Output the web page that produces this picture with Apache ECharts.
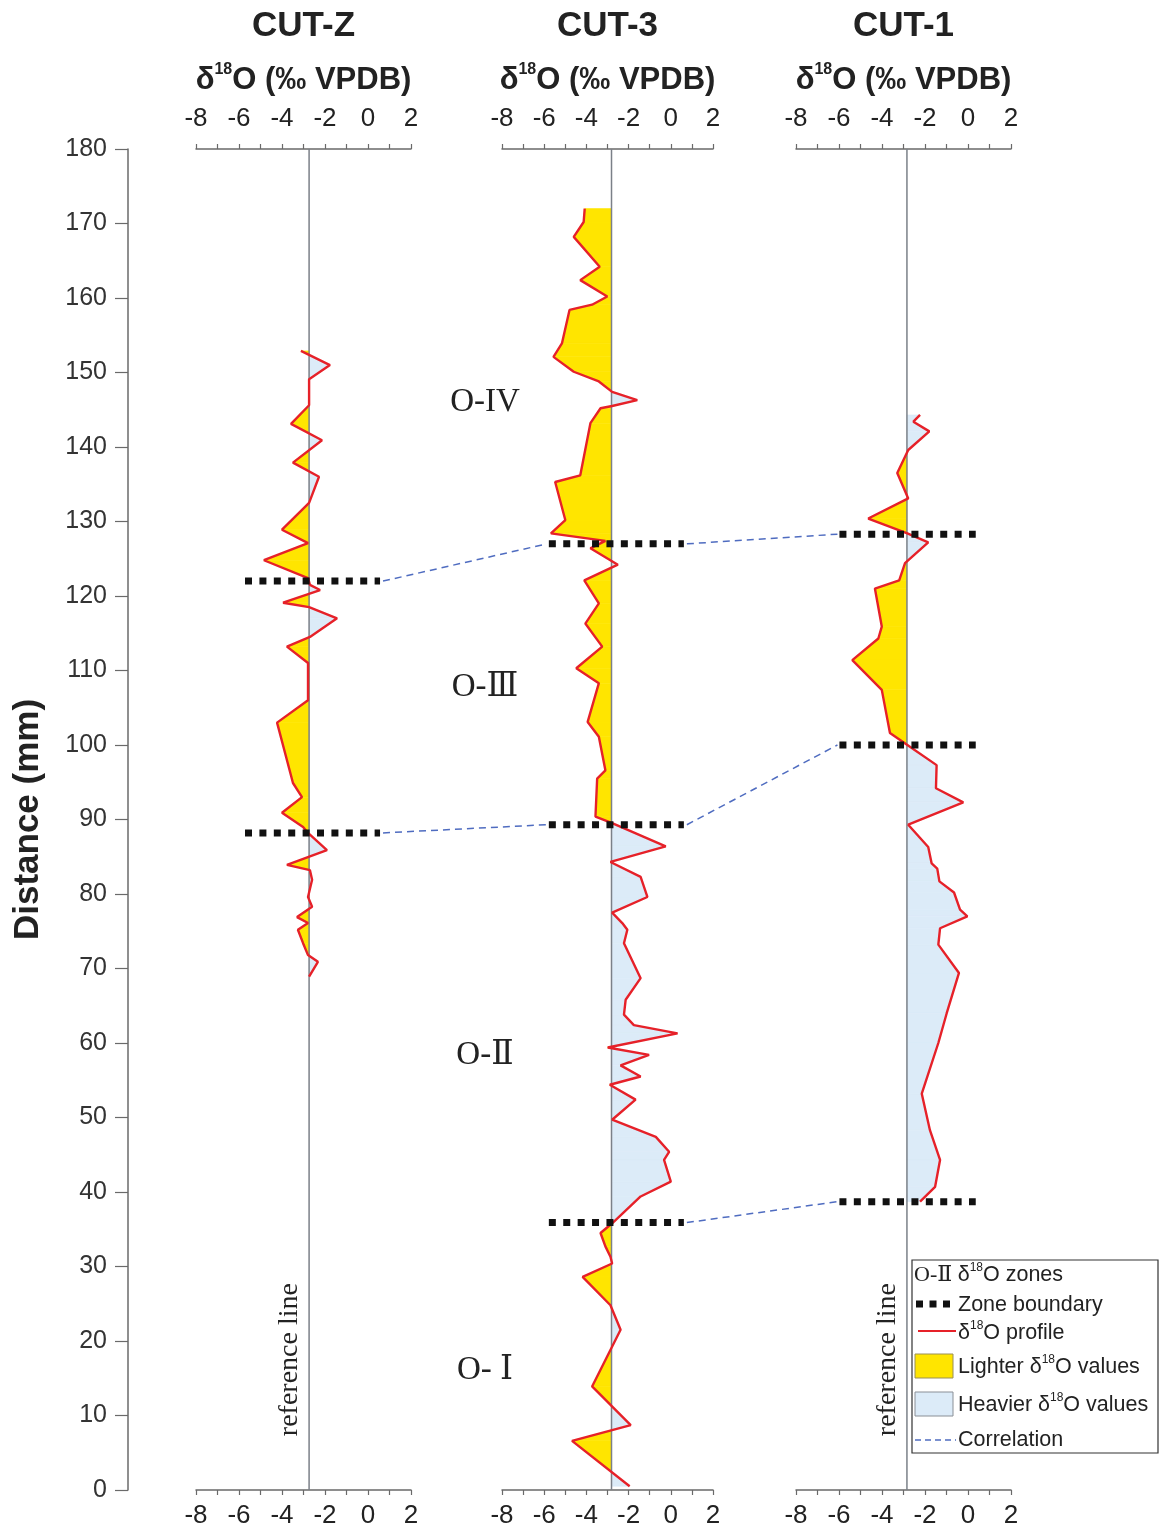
<!DOCTYPE html>
<html>
<head>
<meta charset="utf-8">
<script src="https://cdn.jsdelivr.net/npm/echarts@6/dist/echarts.min.js"></script>
<style>
  html, body { margin: 0; padding: 0; background: #ffffff; }
  #chart { width: 1159px; height: 1530px; }
</style>
</head>
<body>
<div id="chart"></div>
<script>
// ---- Scales ----
const distanceMin = 0, distanceMax = 180, distanceStep = 10;
const isoMin = -8, isoMax = 2, isoStep = 1;

// ---- CUT-Z profile (distance in mm, δ18O in ‰ VPDB) ----
const cutZDistance = [152.9, 151.0, 149.1, 145.6, 143.1, 140.9, 137.9, 136.0, 132.5, 128.9, 127.1, 124.8, 122.4, 121.5, 120.8, 119.1, 118.5, 117.0, 114.5, 113.2, 111.0, 106.0, 103.0, 94.9, 93.0, 90.9, 89.0, 88.2, 85.9, 83.9, 83.2, 81.9, 79.6, 78.3, 76.9, 76.1, 75.2, 73.4, 71.8, 70.9, 68.9];
const cutZIso = [-3.12, -1.77, -2.74, -2.74, -3.58, -2.14, -3.49, -2.28, -2.74, -4.00, -2.79, -4.84, -2.79, -2.70, -2.23, -3.95, -2.74, -1.44, -2.70, -3.77, -2.79, -2.79, -4.23, -3.49, -3.07, -4.00, -3.02, -2.79, -1.91, -3.77, -2.70, -2.60, -2.79, -2.60, -3.30, -2.79, -3.26, -3.02, -2.79, -2.33, -2.74];
const cutZReference = -2.74;
const cutZBoundaries = [122.0, 88.2];

// ---- CUT-3 profile ----
const cut3Distance = [172.0, 170.2, 168.2, 164.2, 162.4, 160.2, 159.1, 158.4, 153.9, 152.1, 150.1, 148.8, 147.4, 146.3, 145.5, 145.2, 143.2, 136.2, 135.3, 130.2, 128.4, 127.4, 126.4, 124.2, 122.1, 119.0, 116.3, 113.2, 110.3, 108.3, 103.1, 101.1, 96.6, 95.5, 90.4, 89.5, 86.4, 84.3, 82.3, 79.6, 77.5, 76.1, 75.2, 73.4, 68.7, 65.8, 63.8, 62.4, 61.3, 59.4, 58.4, 57.0, 55.5, 54.4, 52.4, 49.7, 47.4, 45.4, 44.3, 41.4, 39.4, 35.8, 34.5, 32.7, 31.3, 30.4, 28.6, 24.8, 21.5, 13.9, 8.7, 6.6, 0.5];
const cut3Iso = [-4.08, -4.13, -4.60, -3.37, -4.29, -3.01, -3.73, -4.80, -5.16, -5.56, -4.60, -3.41, -2.78, -1.59, -2.78, -3.33, -3.81, -4.29, -5.48, -5.00, -5.68, -3.10, -3.81, -2.51, -4.10, -3.41, -4.05, -3.25, -4.48, -3.41, -3.94, -3.41, -3.10, -3.49, -3.57, -2.78, -0.24, -2.86, -1.43, -1.11, -2.78, -2.30, -2.06, -2.22, -1.43, -2.14, -2.22, -1.75, 0.32, -2.99, -1.03, -2.38, -1.43, -2.89, -1.67, -2.78, -0.71, -0.08, -0.32, 0.00, -1.43, -2.78, -3.33, -3.10, -2.86, -2.78, -4.18, -2.86, -2.38, -3.73, -1.90, -4.68, -1.95];
const cut3Reference = -2.81;
const cut3Boundaries = [127.0, 89.3, 35.9];

// ---- CUT-1 profile ----
const cut1Distance = [144.3, 143.4, 142.1, 139.6, 136.5, 133.1, 130.4, 128.4, 127.2, 124.4, 122.1, 121.0, 115.9, 114.3, 111.4, 107.4, 101.6, 100.0, 97.3, 94.2, 92.3, 89.3, 86.3, 84.1, 83.4, 81.7, 80.2, 77.9, 77.0, 75.4, 73.2, 69.4, 64.0, 60.0, 53.2, 48.3, 44.3, 40.7, 38.7];
const cut1Iso = [-2.23, -2.54, -1.80, -2.78, -3.29, -2.78, -4.64, -2.82, -1.85, -2.93, -3.20, -4.33, -4.01, -4.17, -5.38, -4.01, -3.63, -2.82, -1.46, -1.49, -0.22, -2.78, -1.85, -1.69, -1.43, -1.33, -0.65, -0.37, -0.03, -1.30, -1.38, -0.42, -0.99, -1.38, -2.15, -1.77, -1.30, -1.53, -2.23];
const cut1Reference = -2.84;
const cut1Boundaries = [128.3, 100.0, 38.7];

// ---- Zone names and the distance at which each name sits ----
const zoneNames = ['O-IV', 'O-Ⅲ', 'O-Ⅱ', 'O- Ⅰ'];
const zoneNameDistance = [146.0, 107.7, 58.4, 16.0];

// boundary pairs joined by correlation lines: [left panel, left boundary, right panel, right boundary]
const correlationPairs = [[0, 0, 1, 0], [0, 1, 1, 1], [1, 0, 2, 0], [1, 1, 2, 1], [1, 2, 2, 2]];

// ---- Styling ----
const SANS = "'Liberation Sans', Arial, Helvetica, sans-serif";
const SERIF = "'Liberation Serif', 'DejaVu Serif', 'Noto Sans CJK SC', serif";
const LIGHT = '#ffe500';
const HEAVY = '#dcebf8';
const PROFILE = '#e62129';
const REF = '#7b8088';
const AXIS = '#6a6a6a';
const CORR = '#4f6cc0';

const panels = [
  { name: 'CUT-Z', dist: cutZDistance, iso: cutZIso, ref: cutZReference, bounds: cutZBoundaries, left: 196, width: 215, span: [-5.72, 0.56] },
  { name: 'CUT-3', dist: cut3Distance, iso: cut3Iso, ref: cut3Reference, bounds: cut3Boundaries, left: 502, width: 211, span: [-5.78, 0.62] },
  { name: 'CUT-1', dist: cut1Distance, iso: cut1Iso, ref: cut1Reference, bounds: cut1Boundaries, left: 796, width: 215, span: [-5.98, 0.36] }
];
const GRID_TOP = 149, GRID_HEIGHT = 1341;

// Filled area between profile and reference line, split where the profile crosses it
function makeFillRenderer(ref) {
  return function (params, api) {
    const v1 = api.value(0), d1 = api.value(1), v2 = api.value(2), d2 = api.value(3);
    const children = [];
    const poly = (pts, side) => {
      const colour = side < 0 ? LIGHT : HEAVY;
      children.push({
        type: 'polygon',
        shape: { points: pts.map(p => api.coord(p)) },
        style: { fill: colour, stroke: colour, lineWidth: 0.6 }
      });
    };
    const s1 = v1 - ref, s2 = v2 - ref;
    if (s1 * s2 >= 0) {
      if (s1 === 0 && s2 === 0) return null;
      poly([[ref, d1], [v1, d1], [v2, d2], [ref, d2]], (s1 + s2) < 0 ? -1 : 1);
    } else {
      const dc = d1 + (ref - v1) / (v2 - v1) * (d2 - d1);
      poly([[ref, d1], [v1, d1], [ref, dc]], s1 < 0 ? -1 : 1);
      poly([[ref, dc], [v2, d2], [ref, d2]], s2 < 0 ? -1 : 1);
    }
    return { type: 'group', children };
  };
}

const grids = [], xAxes = [], yAxes = [], series = [];

panels.forEach((p, i) => {
  grids.push({ left: p.left, top: GRID_TOP, width: p.width, height: GRID_HEIGHT, show: false });

  const xBase = {
    gridIndex: i, type: 'value', min: isoMin, max: isoMax, interval: isoStep,
    axisLine: { show: true, onZero: false, lineStyle: { color: AXIS, width: 1.5 } },
    axisTick: { show: true, inside: false, length: 5, lineStyle: { color: AXIS, width: 1.2 } },
    splitLine: { show: false },
    axisLabel: {
      fontFamily: SANS, fontSize: 26, color: '#222',
      formatter: v => (Math.round(v) % 2 === 0 ? String(v) : ''),
      showMinLabel: true, showMaxLabel: true
    }
  };
  xAxes.push(Object.assign({}, xBase, { position: 'top', axisLabel: Object.assign({}, xBase.axisLabel, { margin: 17 }) }));
  xAxes.push(Object.assign({}, xBase, { position: 'bottom', axisLabel: Object.assign({}, xBase.axisLabel, { margin: 13 }) }));

  if (i === 0) {
    yAxes.push({
      gridIndex: 0, type: 'value', min: distanceMin, max: distanceMax, interval: distanceStep,
      position: 'left', offset: p.left - 128,
      name: 'Distance (mm)', nameLocation: 'middle', nameRotate: 90, nameGap: 82,
      nameTextStyle: { fontFamily: SANS, fontSize: 35, fontWeight: 'bold', color: '#222' },
      axisLine: { show: true, onZero: false, lineStyle: { color: AXIS, width: 1.5 } },
      axisTick: { show: true, inside: false, length: 13, lineStyle: { color: AXIS, width: 1.2 } },
      axisLabel: { fontFamily: SANS, fontSize: 25, color: '#333', margin: 21 },
      splitLine: { show: false }
    });
  } else {
    yAxes.push({ gridIndex: i, type: 'value', min: distanceMin, max: distanceMax, show: false, splitLine: { show: false } });
  }

  const segments = [];
  for (let k = 0; k < p.dist.length - 1; k++) {
    segments.push([p.iso[k], p.dist[k], p.iso[k + 1], p.dist[k + 1]]);
  }
  series.push({
    type: 'custom', name: p.name + ' fill', xAxisIndex: 2 * i, yAxisIndex: i,
    renderItem: makeFillRenderer(p.ref), data: segments,
    encode: { x: [0, 2], y: [1, 3] }, z: 1, silent: true, clip: false
  });
  // reference line through the full distance range
  series.push({
    type: 'line', name: p.name + ' reference', xAxisIndex: 2 * i, yAxisIndex: i,
    data: [[p.ref, distanceMin], [p.ref, distanceMax]],
    showSymbol: false, silent: true, z: 2,
    lineStyle: { color: REF, width: 1.5 }
  });
  // δ18O profile
  series.push({
    type: 'line', name: p.name + ' profile', xAxisIndex: 2 * i, yAxisIndex: i,
    data: p.dist.map((d, k) => [p.iso[k], d]),
    showSymbol: false, silent: true, z: 3,
    lineStyle: { color: PROFILE, width: 2.4 }
  });
  // zone boundaries
  p.bounds.forEach(b => {
    series.push({
      type: 'line', name: p.name + ' boundary', xAxisIndex: 2 * i, yAxisIndex: i,
      data: [[p.span[0], b], [p.span[1], b]],
      showSymbol: false, silent: true, z: 5,
      lineStyle: { color: '#111', width: 7, type: [7, 7.4], cap: 'butt' }
    });
  });
});

const chart = echarts.init(document.getElementById('chart'), null, { renderer: 'canvas' });
chart.setOption({
  backgroundColor: '#ffffff',
  animation: false,
  grid: grids, xAxis: xAxes, yAxis: yAxes, series: series
});

// ---- Annotations placed through the axes' own coordinate conversion ----
const toPx = (i, v, d) => chart.convertToPixel({ xAxisIndex: 2 * i, yAxisIndex: i }, [v, d]);
const graphics = [];

// panel titles and axis titles
panels.forEach((p, i) => {
  const cx = p.left + p.width / 2;
  graphics.push({
    type: 'text', x: cx, y: 26, z: 10,
    style: { text: p.name, font: "bold 35px " + SANS, fill: '#222', align: 'center', verticalAlign: 'middle' }
  });
  graphics.push({
    type: 'text', x: cx, y: 80, z: 10,
    style: {
      text: '{a|δ}{s|18}{a|O (‰ VPDB)}', align: 'center', verticalAlign: 'middle',
      rich: {
        a: { font: "bold 31px " + SANS, fill: '#222', lineHeight: 36 },
        s: { font: "bold 16px " + SANS, fill: '#222', lineHeight: 36, verticalAlign: 'top', padding: [0, 0, 14, 0] }
      }
    }
  });
});

// correlation lines between boundary ends of neighbouring panels
correlationPairs.forEach(([pa, ba, pb, bb]) => {
  const A = panels[pa], B = panels[pb];
  const s = toPx(pa, A.span[1], A.bounds[ba]);
  const e = toPx(pb, B.span[0], B.bounds[bb]);
  graphics.push({
    type: 'line', z: 4, silent: true,
    shape: { x1: s[0] + 3, y1: s[1], x2: e[0] - 2, y2: e[1] },
    style: { stroke: CORR, lineWidth: 1.5, lineDash: [7, 5] }
  });
});

// zone names between the first two panels
zoneNames.forEach((z, k) => {
  const y = toPx(1, isoMin, zoneNameDistance[k])[1];
  graphics.push({
    type: 'text', x: 485, y: y, z: 10,
    style: { text: z, font: "33px " + SERIF, fill: '#222', align: 'center', verticalAlign: 'middle' }
  });
});

// "reference line" captions along the reference lines of CUT-Z and CUT-1
[0, 2].forEach(i => {
  const pt = toPx(i, panels[i].ref, 17.5);
  graphics.push({
    type: 'text', x: pt[0] - 19, y: pt[1], rotation: Math.PI / 2, z: 10,
    style: { text: 'reference line', font: "28px " + SERIF, fill: '#222', align: 'center', verticalAlign: 'middle' }
  });
});

// legend box
const LX = 912, LY = 1260, TX = 958, FS = 21.5;
const legendText = (y, rich) => ({
  type: 'text', x: TX, y: y, z: 11,
  style: {
    text: rich, verticalAlign: 'middle', align: 'left',
    rich: {
      t: { font: FS + "px " + SANS, fill: '#222', lineHeight: 26 },
      s: { font: "12px " + SANS, fill: '#222', lineHeight: 26, verticalAlign: 'top', padding: [0, 0, 10, 0] },
      r: { font: "22px " + SERIF, fill: '#222', lineHeight: 26 }
    }
  }
});
graphics.push({
  type: 'rect', z: 10, silent: true,
  shape: { x: LX, y: LY, width: 246, height: 193 },
  style: { fill: '#ffffff', stroke: '#333', lineWidth: 1.2 }
});
graphics.push(Object.assign(legendText(1275, '{r|O-Ⅱ }{t|δ}{s|18}{t|O zones}'), { x: 914 }));
graphics.push({ type: 'line', z: 11, shape: { x1: 916, y1: 1304, x2: 954, y2: 1304 }, style: { stroke: '#111', lineWidth: 7, lineDash: [7, 6.5] } });
graphics.push(legendText(1305, '{t|Zone boundary}'));
graphics.push({ type: 'line', z: 11, shape: { x1: 918, y1: 1331, x2: 956, y2: 1331 }, style: { stroke: PROFILE, lineWidth: 2 } });
graphics.push(legendText(1333, '{t|δ}{s|18}{t|O profile}'));
graphics.push({ type: 'rect', z: 11, shape: { x: 915, y: 1354, width: 38, height: 24 }, style: { fill: LIGHT, stroke: '#9a8f55', lineWidth: 1 } });
graphics.push(legendText(1367, '{t|Lighter δ}{s|18}{t|O values}'));
graphics.push({ type: 'rect', z: 11, shape: { x: 915, y: 1392, width: 38, height: 24 }, style: { fill: HEAVY, stroke: '#8a8f96', lineWidth: 1 } });
graphics.push(legendText(1405, '{t|Heavier δ}{s|18}{t|O values}'));
graphics.push({ type: 'line', z: 11, shape: { x1: 915, y1: 1440, x2: 956, y2: 1440 }, style: { stroke: CORR, lineWidth: 1.5, lineDash: [6, 4] } });
graphics.push(legendText(1440, '{t|Correlation}'));

chart.setOption({ graphic: graphics });
</script>
</body>
</html>
